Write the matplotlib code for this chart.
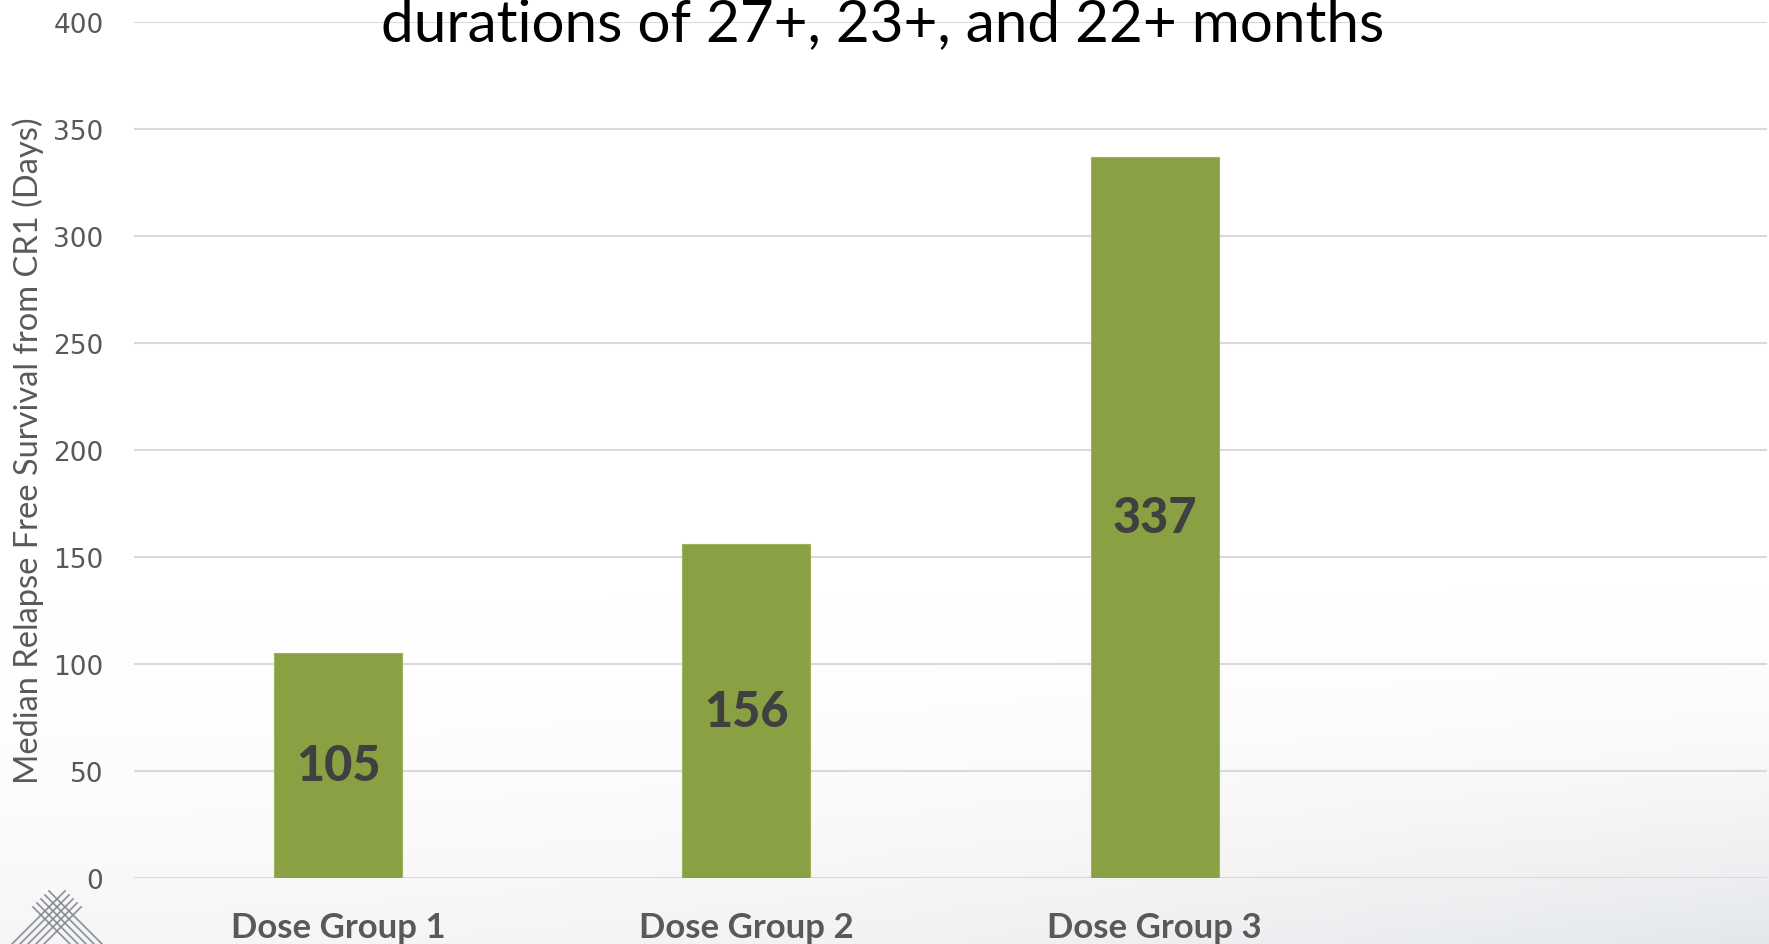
import matplotlib.pyplot as plt
import numpy as np
from matplotlib.colors import LinearSegmentedColormap

groups = ["Dose Group 1", "Dose Group 2", "Dose Group 3"]
days = [105, 156, 337]
yticks = [0, 50, 100, 150, 200, 250, 300, 350, 400]

W, H = 1769, 945
fig = plt.figure(figsize=(W / 100, H / 100), dpi=100)

# slide background: white fading to very light grey / blue-grey at the bottom
bg = fig.add_axes([0, 0, 1, 1], zorder=-10)
yy, xx = np.mgrid[0:1:200j, 0:1:400j]
shade = np.clip((yy - 0.6) / 0.4, 0, 1) ** 2.0 * (0.35 + 0.65 * xx ** 2)
cmap = LinearSegmentedColormap.from_list("bg", ["#ffffff", "#f2f2f3", "#e3e7ec"])
bg.imshow(shade, cmap=cmap, vmin=0, vmax=1, aspect="auto", extent=[0, W, H, 0])
# small lattice pyramid logo in the bottom-left corner
ax0, ay0, step = 57, 900, 8
for k in range(5):
    c = ax0 + ay0 + step * k
    y_start = (c - (ax0 - ay0)) / 2 - 8
    bg.plot([c - y_start, c - H], [y_start, H], color="#80858d", lw=1.3, alpha=0.85)
    d = ax0 - ay0 - step * k
    y_start = ((ax0 + ay0) - d) / 2 - 8
    bg.plot([d + y_start, d + H], [y_start, H], color="#80858d", lw=1.3, alpha=0.85)
bg.set_xlim(0, W)
bg.set_ylim(H, 0)
bg.axis("off")

ax = fig.add_axes([134 / W, (H - 879) / H, (1767 - 134) / W, (879 - 23) / H])
ax.set_facecolor("none")
x = np.arange(len(groups))
ax.bar(x, days, width=0.314, color="#89a043", edgecolor="#9db35c", linewidth=0.8, zorder=3)
for xi, v in zip(x, days):
    ax.text(xi, v / 2, str(v), ha="center", va="center", fontsize=35, fontweight=900,
            color="#404040", family="Lato", zorder=4)

ax.set_xlim(-0.5, 3.5)
ax.set_ylim(0, 400)
ax.set_yticks(yticks)
ax.set_yticklabels([str(t) for t in yticks], fontsize=19, color="#595959", family="DejaVu Sans")
ax.tick_params(axis="y", length=0, pad=22)
ax.set_xticks(x)
ax.set_xticklabels(groups, fontsize=25, fontweight="bold", color="#595959", family="Lato")
ax.tick_params(axis="x", length=0, pad=24)
ax.grid(axis="y", color="#d9d9d9", lw=1.5, zorder=0)
for s in ax.spines.values():
    s.set_visible(False)

fig.text(28 / W, 1 - 451 / H, "Median Relapse Free Survival from CR1 (Days)", rotation=90,
         ha="center", va="center", fontsize=23.5, color="#595959", family="Lato")
fig.text(883 / W, 1 - 41 / H, "durations of 27+, 23+, and 22+ months", ha="center", va="baseline",
         fontsize=42, color="#000000", family="Lato")

fig.savefig("out.png", dpi=100)
